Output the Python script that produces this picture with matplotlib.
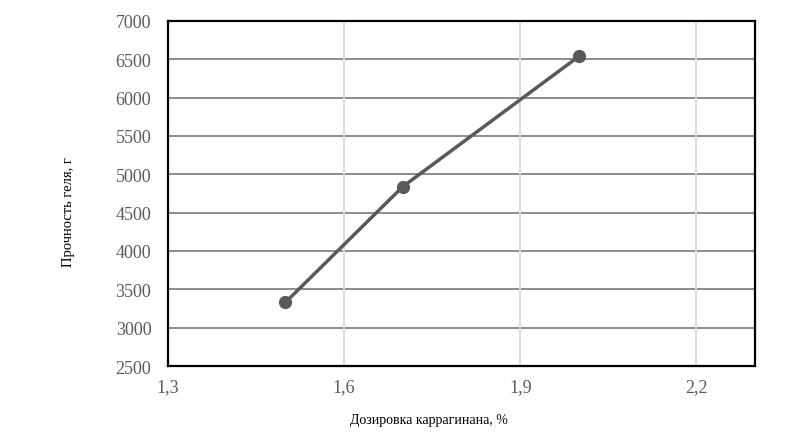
import matplotlib
matplotlib.use("Agg")
import matplotlib.pyplot as plt
from matplotlib.ticker import FuncFormatter

# data
dosage = [1.5, 1.7, 2.0]
strength = [3330, 4840, 6540]
x_ticks = [1.3, 1.6, 1.9, 2.2]
y_ticks = [2500, 3000, 3500, 4000, 4500, 5000, 5500, 6000, 6500, 7000]

plt.rcParams['font.family'] = ['Liberation Serif', 'DejaVu Serif']

fig = plt.figure(figsize=(8, 4.39), dpi=100)
ax = fig.add_axes([0.21, 0.164, 0.734, 0.786])

ax.plot(dosage, strength, color='#595959', linewidth=2.5, marker='o',
        markersize=8.5, zorder=3)

ax.set_xlim(1.3, 2.3)
ax.set_ylim(2500, 7000)
ax.set_xticks(x_ticks)
ax.set_yticks(y_ticks)
ax.xaxis.set_major_formatter(FuncFormatter(lambda v, p: "{:.1f}".format(v).replace('.', ',')))

# horizontal grid darker, vertical lighter
for y in y_ticks[1:]:
    ax.axhline(y, color='#8c8c8c', linewidth=1.4, zorder=1)
for x in x_ticks[1:]:
    ax.axvline(x, color='#d9d9d9', linewidth=1.4, zorder=1)

for s in ax.spines.values():
    s.set_color('black')
    s.set_linewidth(1.6)

ax.tick_params(length=0, labelsize=13, labelcolor='#5a5a5a')
ax.tick_params(axis='x', pad=9)
ax.tick_params(axis='y', pad=12)

ax.set_xlabel("Дозировка каррагинана, %", fontsize=10)
ax.set_ylabel("Прочность геля, г", fontsize=10.5)
# labels sit off-centre in the reference
ax.xaxis.set_label_coords(0.445, -0.135)
ax.yaxis.set_label_coords(-0.158, 0.45)

fig.savefig("out.png", dpi=100)
